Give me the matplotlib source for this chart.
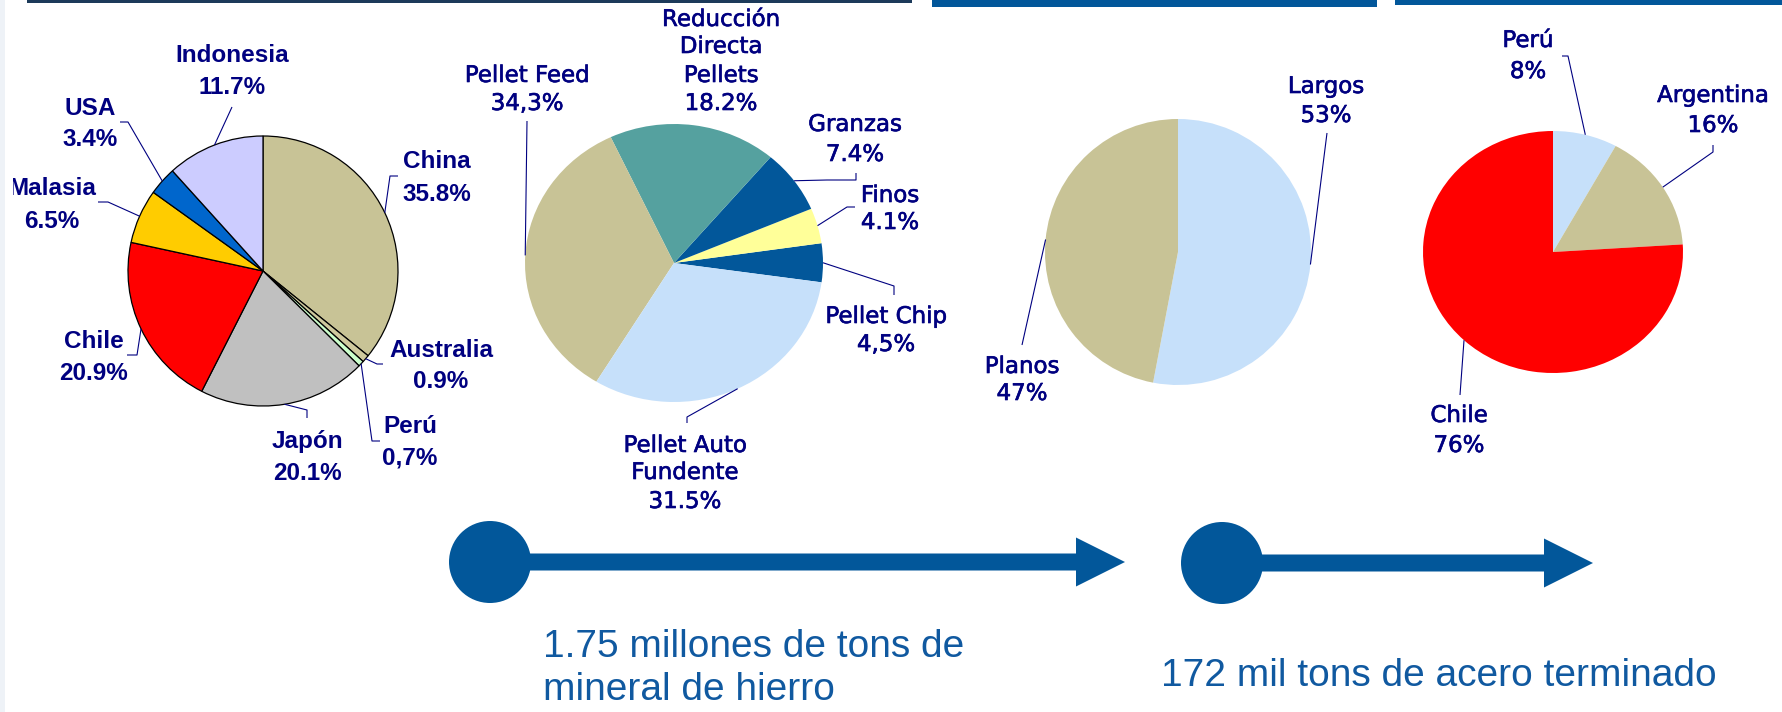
import matplotlib.pyplot as plt
from matplotlib.patches import Rectangle, Circle, FancyArrow
from matplotlib.transforms import Bbox, TransformedBbox
import matplotlib.patheffects as pe
import numpy as np

W, H = 1782, 712
NAVY = "#000080"
BLUE = "#02579A"
KHAKI = "#C8C396"
LIGHT = "#C6E0FA"

# destino de las exportaciones de mineral (%)
destinos = ["China", "Australia", "Perú", "Japón", "Chile", "Malasia", "USA", "Indonesia"]
destinos_pct = [35.8, 0.9, 0.7, 20.1, 20.9, 6.5, 3.4, 11.7]
destinos_col = [KHAKI, "#CFC99E", "#CCFFCC", "#C0C0C0", "#FF0000", "#FFCC00", "#0066CC", "#CCCCFF"]

# mezcla de productos de hierro (%)
productos = ["Pellet Chip", "Finos", "Granzas", "Reducción\nDirecta\nPellets", "Pellet Feed",
             "Pellet Auto\nFundente"]
productos_pct = [4.5, 4.1, 7.4, 18.2, 34.3, 31.5]
productos_col = [BLUE, "#FFFF99", BLUE, "#55A19F", KHAKI, LIGHT]

# acero terminado por tipo (%)
acero = ["Largos", "Planos"]
acero_pct = [53, 47]
acero_col = [LIGHT, KHAKI]

# acero terminado por mercado (%)
mercados = ["Perú", "Argentina", "Chile"]
mercados_pct = [8, 16, 76]
mercados_col = [LIGHT, KHAKI, "#FF0000"]

# etiquetas escritas con coma decimal
con_coma = {"Perú", "Pellet Feed", "Pellet Chip"}


def pct(name, v, decimals):
    s = f"{v:.{decimals}f}%"
    return s.replace(".", ",") if name in con_coma else s


fig = plt.figure(figsize=(W / 100, H / 100), dpi=100)


def pie_axes(cx, cy, rx, ry):
    return fig.add_axes([(cx - rx) / W, 1 - (cy + ry) / H, 2 * rx / W, 2 * ry / H])


def draw_pie(ax, values, colors, start, clockwise, edge=None):
    wp = dict(linewidth=0.9 if edge else 0, edgecolor=edge or "none", clip_on=False)
    wedges, _ = ax.pie(values, colors=colors, startangle=start, counterclock=not clockwise,
                       radius=1, wedgeprops=wp)
    ax.set_aspect("auto")
    ax.set_xlim(-1, 1)
    ax.set_ylim(-1, 1)
    ax.axis("off")
    return wedges


ax1 = pie_axes(263, 271, 135, 135)
w1 = draw_pie(ax1, destinos_pct, destinos_col, 90, True, edge="black")
ax2 = pie_axes(674, 263, 149, 139)
w2 = draw_pie(ax2, productos_pct, productos_col, -8, False)
ax3 = pie_axes(1178, 252, 133, 133)
w3 = draw_pie(ax3, acero_pct, acero_col, 90, True)
ax4 = pie_axes(1553, 252, 130, 121)
w4 = draw_pie(ax4, mercados_pct, mercados_col, 90, True)

# capa en pixeles para textos, guias y flechas
ov = fig.add_axes([0, 0, 1, 1])
ov.set_xlim(0, W)
ov.set_ylim(H, 0)
ov.axis("off")

# franjas superiores
ov.add_patch(Rectangle((27, 0), 885, 2.5, color="#1C3A5A", lw=0))
ov.add_patch(Rectangle((932, 0), 445, 7, color=BLUE, lw=0))
ov.add_patch(Rectangle((1395, 0), 387, 4.5, color=BLUE, lw=0))
ov.add_patch(Rectangle((0, 0), 5, H, color="#EEF2F7", lw=0))


def rim_point(ax, wedge):
    t = np.radians((wedge.theta1 + wedge.theta2) / 2)
    disp = ax.transData.transform((np.cos(t), np.sin(t)))
    return ov.transData.inverted().transform(disp)


def labels(ax, wedges, names, values, decimals, layout, font):
    for wedge, name, v in zip(wedges, names, values):
        x, baselines, path = layout[name]
        lines = name.split("\n") + [pct(name, v, decimals)]
        for line, y in zip(lines, baselines):
            t = ov.text(x, y, line, ha="center", va="baseline", color=NAVY, **font)
            if x < 60:
                t.set_clip_box(TransformedBbox(Bbox([[13, 0], [W, H]]), ov.transData))
                t.set_clip_on(True)
        if path:
            p0 = rim_point(ax, wedge)
            xs = [p0[0]] + [p[0] for p in path]
            ys = [p0[1]] + [p[1] for p in path]
            ov.plot(xs, ys, color=NAVY, lw=0.8, solid_capstyle="butt")


bold = dict(family="Liberation Sans", fontweight="bold", fontsize=17.5)
plain = dict(family="DejaVu Sans", fontsize=16.5,
             path_effects=[pe.withStroke(linewidth=0.45, foreground=NAVY)])

lay1 = {
    "China": (437, [168, 201], [(390, 176), (398, 176)]),
    "Australia": (441, [357, 388], [(377, 364), (383, 364)]),
    "Perú": (410, [433, 465], [(372, 441), (380, 441)]),
    "Japón": (307, [448, 480], [(307, 410), (307, 418)]),
    "Chile": (94, [348, 380], [(137, 355), (127, 355)]),
    "Malasia": (52, [195, 228], [(108, 202), (98, 202)]),
    "USA": (90, [115, 146], [(128, 122), (120, 122)]),
    "Indonesia": (232, [62, 94], [(232, 107)]),
}
lay2 = {
    "Pellet Chip": (886, [323, 351], [(894, 286), (894, 295)]),
    "Finos": (890, [202, 229], [(847, 207), (855, 207)]),
    "Granzas": (855, [131, 161], [(827, 180), (856, 180), (856, 173)]),
    "Reducción\nDirecta\nPellets": (721, [26, 53, 82, 110], []),
    "Pellet Feed": (527, [82, 110], [(527, 121)]),
    "Pellet Auto\nFundente": (685, [452, 479, 508], [(687, 417), (687, 423)]),
}
lay3 = {
    "Largos": (1326, [93, 122], [(1327, 133)]),
    "Planos": (1022, [373, 400], [(1022, 345)]),
}
lay4 = {
    "Perú": (1528, [47, 78], [(1568, 56), (1562, 56)]),
    "Argentina": (1713, [102, 132], [(1713, 152), (1713, 145)]),
    "Chile": (1459, [422, 452], [(1460, 395)]),
}

labels(ax1, w1, destinos, destinos_pct, 1, lay1, bold)
labels(ax2, w2, productos, productos_pct, 1, lay2, plain)
labels(ax3, w3, acero, acero_pct, 0, lay3, plain)
labels(ax4, w4, mercados, mercados_pct, 0, lay4, plain)

# flechas del flujo
for cx, cy, tip in [(490, 562, 1125), (1222, 563, 1593)]:
    ov.add_patch(Circle((cx, cy), 41, color=BLUE, lw=0))
    ov.add_patch(FancyArrow(cx, cy, tip - cx, 0, width=17, head_width=49, head_length=49,
                            length_includes_head=True, color=BLUE, lw=0))

big = dict(family="Liberation Sans", fontsize=28, color="#1059A0", va="baseline")
ov.text(543, 657, "1.75 millones de tons de", **big)
ov.text(543, 700, "mineral de hierro", **big)
ov.text(1161, 686, "172 mil tons de acero terminado", **big)

fig.savefig("out.png", dpi=100)
